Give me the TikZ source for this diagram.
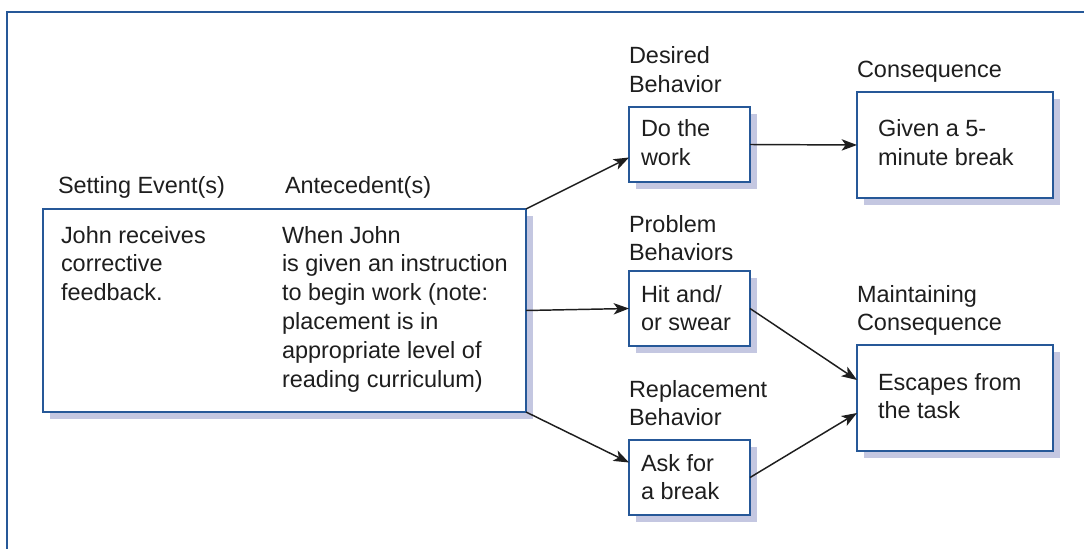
\documentclass[tikz,border=0pt]{standalone}
\usepackage{fontspec}
\setmainfont{Liberation Sans}
\usetikzlibrary{arrows.meta,shadows,calc}
\definecolor{boxblue}{RGB}{38,88,152}
\definecolor{shadowc}{RGB}{196,199,225}
\definecolor{inkc}{RGB}{30,30,30}
\tikzset{
  lbl/.style={anchor=base west, inner sep=0pt, outer sep=0pt, text=inkc,
    font=\fontsize{17.6}{21.6}\selectfont},
  bx/.style={draw=boxblue, line width=1.4pt, fill=white, anchor=north west,
    inner sep=0pt, outer sep=0pt,
    drop shadow={shadow xshift=5.25pt, shadow yshift=-5.25pt, fill=shadowc, opacity=1}},
  smallbox/.style={bx, minimum width=90.75pt, minimum height=56.25pt},
  consbox/.style={bx, minimum width=147pt, minimum height=79.5pt},
  conn/.style={draw=inkc, line width=1.1pt, -{Stealth[length=11.5pt, width=8.5pt, inset=3pt]}},
  frameline/.style={draw=boxblue, line width=1.6pt}
}
\newcommand{\twoln}[2]{\vtop{\hbox{#1}\hbox{#2}}}
\begin{document}
\begin{tikzpicture}[x=0.75pt, y=-0.75pt]
\useasboundingbox (0,0) rectangle (1084,549);
\fill[white] (0,0) rectangle (1084,549);
% frame
\draw[frameline] (7,549) -- (7,12) -- (1084,12);

% main box
\node[bx, minimum width=362.25pt, minimum height=152.25pt] (big) at (43,209) {};
\node[lbl] (setlbl) at (58,193) {Setting Event(s)};
\node[lbl] (antlbl) at (285,193) {Antecedent(s)};
\node[lbl] (settxt) at (61,243) {\vtop{\hbox{John receives}\hbox{corrective}\hbox{feedback.}}};
\node[lbl] (anttxt) at (282,243) {\vtop{\hbox{When John}\hbox{is given an instruction}\hbox{to begin work (note:}\hbox{placement is in}\hbox{appropriate level of}\hbox{reading curriculum)}}};

% desired behavior
\node[smallbox] (dw) at (629,107) {};
\node[lbl] (dwlbl) at (629,64) {\twoln{Desired}{Behavior}};
\node[lbl] (dwtxt) at (641,137) {\twoln{Do the}{work}};

% consequence
\node[consbox] (cons) at (857,92) {};
\node[lbl] (conslbl) at (857,78) {Consequence};
\node[lbl] (constxt) at (878,137) {\twoln{Given a 5-}{minute break}};

% problem behaviors
\node[smallbox] (pb) at (629,271) {};
\node[lbl] (pblbl) at (629,232) {\twoln{Problem}{Behaviors}};
\node[lbl] (pbtxt) at (641,302) {\twoln{Hit and/}{or swear}};

% replacement behavior
\node[smallbox] (rb) at (629,440) {};
\node[lbl] (rblbl) at (629,397) {\twoln{Replacement}{Behavior}};
\node[lbl] (rbtxt) at (641,471) {\twoln{Ask for}{a break}};

% maintaining consequence
\node[consbox] (mc) at (857,345) {};
\node[lbl] (mclbl) at (857,302) {\twoln{Maintaining}{Consequence}};
\node[lbl] (mctxt) at (878,390) {\twoln{Escapes from}{the task}};

% connectors
\draw[conn] (big.north east) -- ($(dw.west)+(0,13)$);
\draw[conn] (big.east) -- (pb.west);
\draw[conn] (big.south east) -- ($(rb.west)+(0,-15)$);
\draw[conn] (dw.east) -- (cons.west);
\draw[conn] (pb.east) -- ($(mc.west)+(0,-18)$);
\draw[conn] (rb.east) -- ($(mc.west)+(0,15)$);
\end{tikzpicture}
\end{document}
